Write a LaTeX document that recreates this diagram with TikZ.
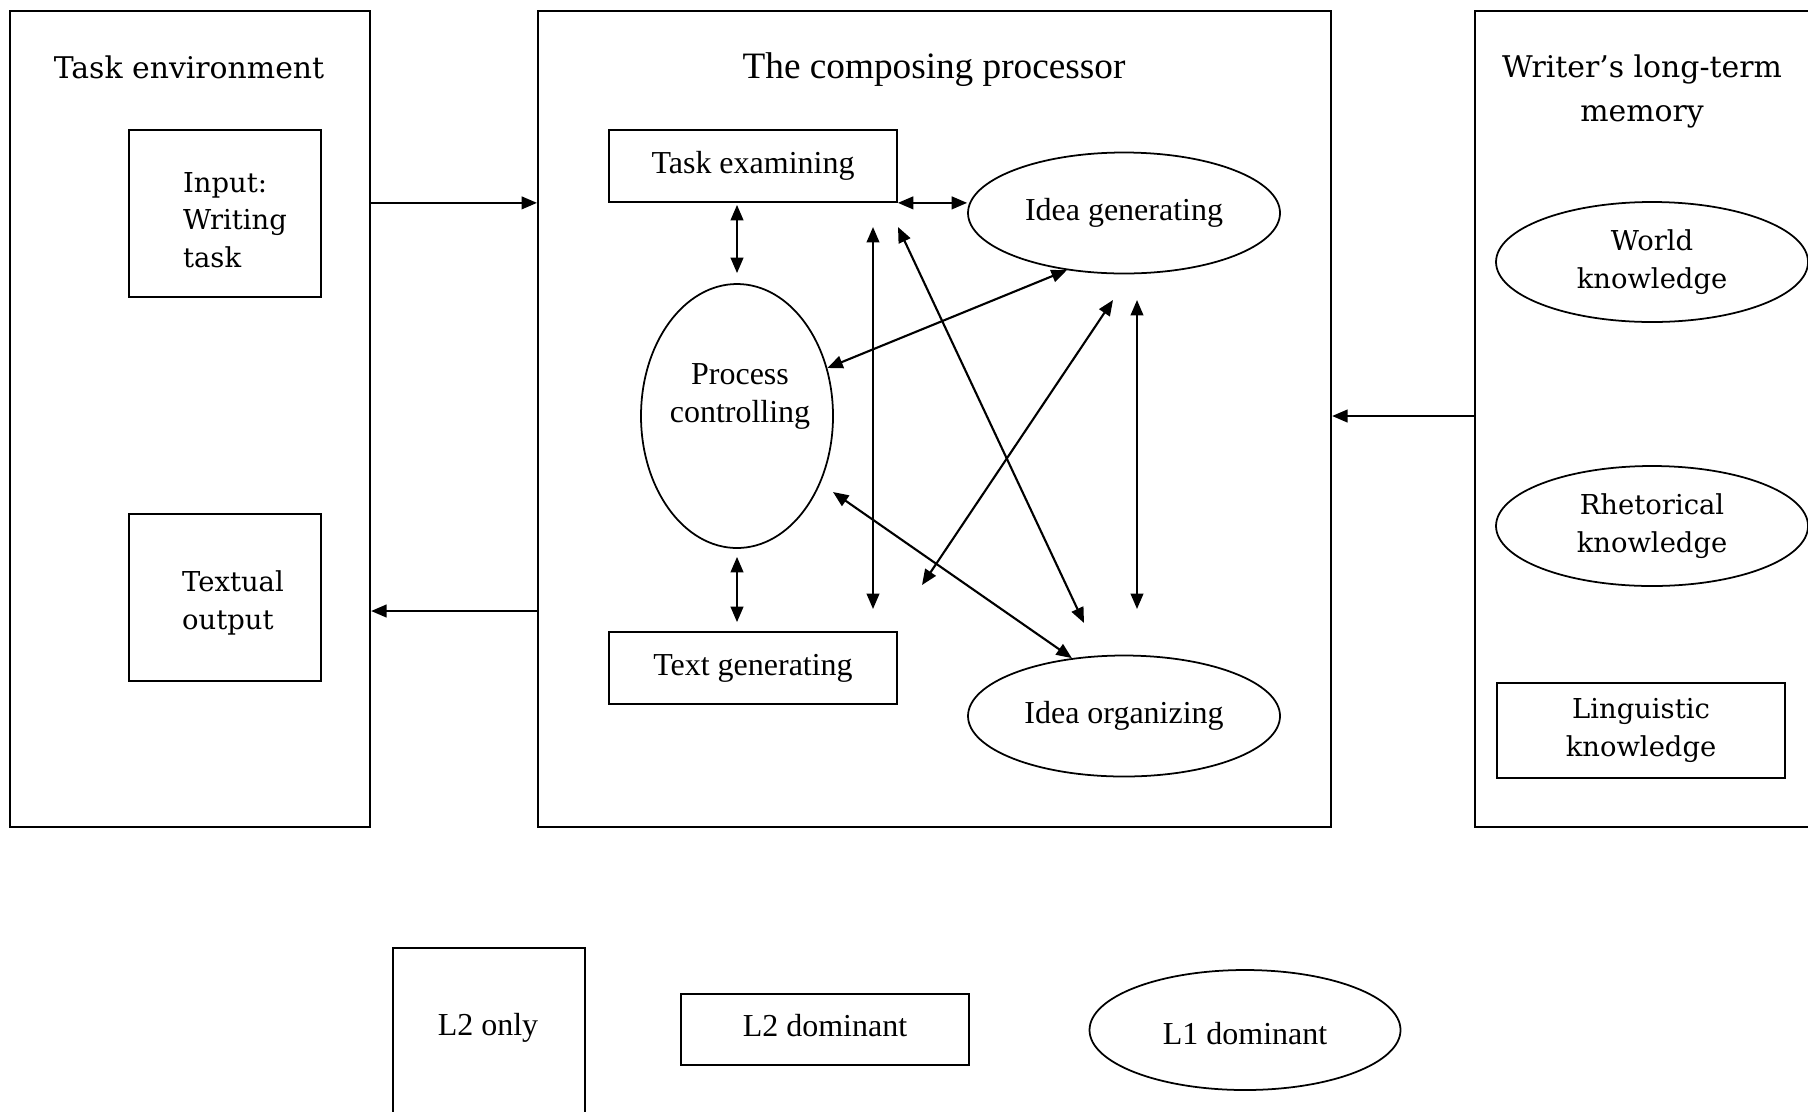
\documentclass[tikz,border=0pt]{standalone}
\usepackage{fontspec}
\setmainfont{Liberation Serif}
\newfontfamily\widefont{DejaVu Serif}
\usetikzlibrary{arrows.meta,shapes.geometric}

\begin{document}
\begin{tikzpicture}[
    panel/.style={draw, line width=0.6pt, inner sep=0pt},
    box/.style={draw, line width=0.5pt, rectangle, inner sep=0pt},
    oval/.style={draw, line width=0.5pt, ellipse, inner sep=0pt},
    txt/.style={font=\fontsize{9.1}{10.8}\selectfont, align=center},
    headtxt/.style={font=\fontsize{10.6}{12.5}\selectfont},
    widetxt/.style={font=\widefont\fontsize{7.8}{10.6}\selectfont},
    wideheadtxt/.style={font=\widefont\fontsize{8.5}{12.5}\selectfont},
    twoway/.style={line width=0.6pt, {Triangle[length=4.4pt,width=3.6pt]}-{Triangle[length=4.4pt,width=3.6pt]}},
    oneway/.style={line width=0.6pt, -{Triangle[length=4.4pt,width=3.6pt]}}
  ]

    \useasboundingbox (0,0) rectangle (18.08,-11.11);
    \clip (0,0) rectangle (18.08,-11.11);

    % 三つの枠
    \node [panel, anchor=north west, minimum width=3.60cm, minimum height=8.16cm] (env) at (0.09,-0.10) {};
    \node [panel, anchor=north west, minimum width=7.93cm, minimum height=8.16cm] (comp) at (5.37,-0.10) {};
    \node [panel, anchor=north west, minimum width=3.80cm, minimum height=8.16cm] (ltm) at (14.74,-0.10) {};

    % 見出し
    \node [wideheadtxt] (envtitle) at (1.89,-0.67) {Task environment};
    \node [headtxt] (comptitle) at (9.34,-0.70) {The composing processor};
    \node [wideheadtxt, align=center] (ltmtitle) at (16.42,-0.91) {Writer’s long-term\\memory};

    % Task environment の中
    \node [box, minimum width=1.92cm, minimum height=1.67cm] (input) at (2.25,-2.135) {};
    \node [widetxt, align=left] (inputtxt) at (2.35,-2.20) {Input:\\Writing\\task};
    \node [box, minimum width=1.92cm, minimum height=1.67cm] (output) at (2.25,-5.975) {};
    \node [widetxt, align=left] (outputtxt) at (2.33,-6.03) {Textual\\output};

    % The composing processor の中
    \node [box, txt, minimum width=2.88cm, minimum height=0.72cm] (taskex) at (7.53,-1.66) {Task examining};
    \node [oval, txt, minimum width=3.12cm, minimum height=1.21cm] (idgen) at (11.24,-2.13) {Idea generating};
    \node [oval, minimum width=1.92cm, minimum height=2.64cm] (proc) at (7.37,-4.16) {};
    \node [txt] (proctxt) at (7.40,-3.96) {Process\\controlling};
    \node [box, txt, minimum width=2.88cm, minimum height=0.72cm] (textgen) at (7.53,-6.68) {Text generating};
    \node [oval, txt, minimum width=3.12cm, minimum height=1.21cm] (idorg) at (11.24,-7.16) {Idea organizing};

    % 矢印の端
    \coordinate (lineAtop) at (8.73,-2.27);
    \coordinate (lineAbot) at (8.73,-6.09);
    \coordinate (diagAtop) at (8.98,-2.27);
    \coordinate (diagAbot) at (10.84,-6.23);
    \coordinate (diagBtop) at (11.13,-3.00);
    \coordinate (diagBbot) at (9.22,-5.85);
    \coordinate (lineBtop) at (11.37,-3.00);
    \coordinate (lineBbot) at (11.37,-6.09);
    \coordinate (procleft) at (8.33,-4.92);
    \coordinate (outrow) at (0,-6.11);

    % 中の矢印
    \draw [twoway, shorten <=0.02cm, shorten >=0.10cm](proc.north |- taskex.south)--(proc.north);
    \draw [twoway, shorten <=0.08cm, shorten >=0.09cm](proc.south)--(proc.south |- textgen.north);
    \draw [twoway](taskex.south east)--(taskex.south east -| idgen.west);
    \draw [twoway](lineAtop)--(lineAbot);
    \draw [twoway](diagAtop)--(diagAbot);
    \draw [twoway](proc.28)--(idgen.225);
    \draw [twoway](diagBtop)--(diagBbot);
    \draw [twoway](lineBtop)--(lineBbot);
    \draw [twoway](procleft)--(idorg.132);

    % 枠の間の矢印
    \draw [oneway](env.east |- taskex.south)--(comp.west |- taskex.south);
    \draw [oneway](comp.west |- outrow)--(env.east |- outrow);
    \draw [oneway](ltm.west |- proc.center)--(comp.east |- proc.center);

    % Writer's long-term memory の中
    \node [oval, widetxt, align=center, minimum width=3.12cm, minimum height=1.20cm] (world) at (16.52,-2.62) {World\\knowledge};
    \node [oval, widetxt, align=center, minimum width=3.12cm, minimum height=1.20cm] (rhet) at (16.52,-5.26) {Rhetorical\\knowledge};
    \node [box, widetxt, align=center, minimum width=2.88cm, minimum height=0.95cm] (ling) at (16.41,-7.305) {Linguistic\\knowledge};

    % 凡例
    \node [box, anchor=north, minimum width=1.92cm, minimum height=1.83cm] (ltwoonly) at (4.89,-9.47) {};
    \node [txt] (ltwoonlytxt) at (4.88,-10.28) {L2 only};
    \node [box, minimum width=2.88cm, minimum height=0.71cm] (ltwodom) at (8.25,-10.295) {};
    \node [txt] (ltwodomtxt) at (8.25,-10.26) {L2 dominant};
    \node [oval, minimum width=3.11cm, minimum height=1.20cm] (lonedom) at (12.45,-10.30) {};
    \node [txt] (lonedomtxt) at (12.45,-10.34) {L1 dominant};

\end{tikzpicture}
\end{document}
